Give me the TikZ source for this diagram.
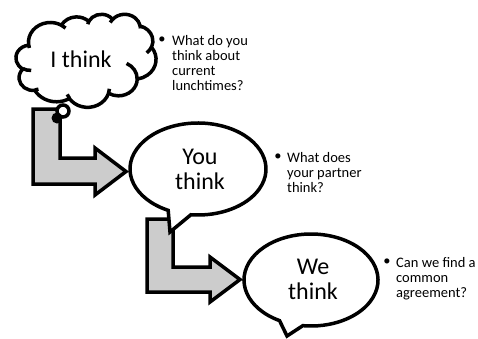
\documentclass[tikz,border=0pt]{standalone}
\usepackage{fontspec}
\setmainfont{Carlito}
\usetikzlibrary{positioning}

\tikzset{
  outline/.style={draw=black,line width=3.5pt},
  bentarrow/.style={outline,fill=black!20,line join=miter},
  bubble/.style={outline,fill=white},
  bigtext/.style={font=\fontsize{24}{25}\selectfont,align=center,inner sep=0pt},
  question/.style={font=\fontsize{14.5}{15}\selectfont,align=left,anchor=north west,inner sep=0pt},
  bulletmark/.style={font=\fontsize{14.5}{15}\selectfont,inner sep=0pt},
  ooarc/.style n args={4}{insert path={arc[x radius=#1,y radius=#2,start angle={visang(#3,#1,#2)},delta angle={pardelta(#3,#4,#1,#2)}]}}
}

\begin{document}
\begin{tikzpicture}[x=1pt,y=-1pt,
    declare function={
      visang(\a,\w,\h)=atan2(\w*sin(\a),\h*cos(\a));
      pardiff(\a,\s,\w,\h)=visang(\a+\s,\w,\h)-visang(\a,\w,\h);
      pardelta(\a,\s,\w,\h)=pardiff(\a,\s,\w,\h)+360*round((\s-pardiff(\a,\s,\w,\h))/360);
    }]
  \useasboundingbox (0,0) rectangle (478,338);

  % the two bent arrows
  \draw[bentarrow] (33,109) -- (60,109) -- (60,158) -- (95,158) -- (95,148) -- (126,171.5) -- (95,195) -- (95,184) -- (33,184) -- cycle;
  \draw[bentarrow] (147,219) -- (173,219) -- (173,267) -- (210,267) -- (210,257) -- (240,279.5) -- (210,302) -- (210,292) -- (147,292) -- cycle;

  % thought cloud
  \begin{scope}[shift={(16,14)},xscale=0.3241,yscale=0.2153]
    \draw[bubble] (39.00,143.70) [ooarc={67.53}{91.90}{-190.4875}{123.7805}]
      [ooarc={53.33}{72.67}{-144.1024}{89.9452}]
      [ooarc={43.65}{59.45}{-145.8079}{99.7230}]
      [ooarc={48.57}{65.95}{-130.9861}{117.2417}]
      [ooarc={53.33}{72.73}{-78.7089}{109.0269}]
      [ooarc={67.75}{92.20}{-46.2673}{130.2690}]
      [ooarc={57.85}{78.67}{0.6250}{114.0333}]
      [ooarc={67.52}{92.15}{22.4516}{115.1726}]
      [ooarc={77.20}{105.43}{66.2426}{75.7110}]
      [ooarc={43.60}{59.18}{-274.9421}{146.7356}]
      [ooarc={43.45}{59.45}{-246.8285}{152.5189}] -- cycle;
    \draw[outline]
      (46.93,261.77) [ooarc={43.45}{59.45}{86.742}{26.4295}]
      (69.28,348.99) [ooarc={43.60}{59.18}{73.6105}{11.4475}]
      (164.78,390.90) [ooarc={67.52}{92.15}{137.6242}{14.0811}]
      (288.27,347.51) [ooarc={67.52}{92.15}{6.4533}{15.9984}]
      (341.29,229.54) [ooarc={57.85}{78.67}{-70.2924}{70.9174}]
      (417.98,153.54) [ooarc={53.33}{72.73}{30.3180}{27.7515}]
      (383.24,54.26) [ooarc={48.57}{65.95}{-13.7443}{14.8589}]
      (290.78,39.52) [ooarc={48.57}{65.95}{-149.1815}{18.1954}]
      (221.41,47.20) [ooarc={43.65}{59.45}{-163.4943}{17.6864}]
      (140.00,51.92) [ooarc={67.53}{91.90}{-66.7070}{12.3194}]
      (41.27,157.89) [ooarc={67.53}{91.90}{157.6544}{11.8539}];
  \end{scope}
  \draw[bubble] (63,111) circle[radius=6];
  \fill (57,118) circle[radius=5.5];

  % speech bubbles
  \coordinate (youc) at (198,169);
  \coordinate (youtip) at (170,232);
  \draw[bubble,line join=miter] (youc) ++(116:68 and 46) arc[start angle=116,end angle=456,x radius=68,y radius=46] -- (youtip) -- cycle;
  \coordinate (wec) at (311,280);
  \coordinate (wetip) at (287,336);
  \draw[bubble,line join=miter] (wec) ++(118:67 and 46) arc[start angle=118,end angle=457,x radius=67,y radius=46] -- (wetip) -- cycle;

  \node[bigtext] (ithink) at (81,59.5) {I think};
  \node[bigtext] (youthink) at (200,169) {You\\think};
  \node[bigtext] (wethink) at (313,279) {We\\think};

  % questions
  \node[question] (q1) at (172,35) {What do you\\think about\\current\\lunchtimes?};
  \node[bulletmark] (b1) at (162,40) {\textbullet};
  \node[question] (q2) at (287,152) {What does\\your partner\\think?};
  \node[bulletmark] (b2) at (278,157) {\textbullet};
  \node[question] (q3) at (396,257) {Can we find a\\common\\agreement?};
  \node[bulletmark] (b3) at (387,262) {\textbullet};
\end{tikzpicture}
\end{document}
